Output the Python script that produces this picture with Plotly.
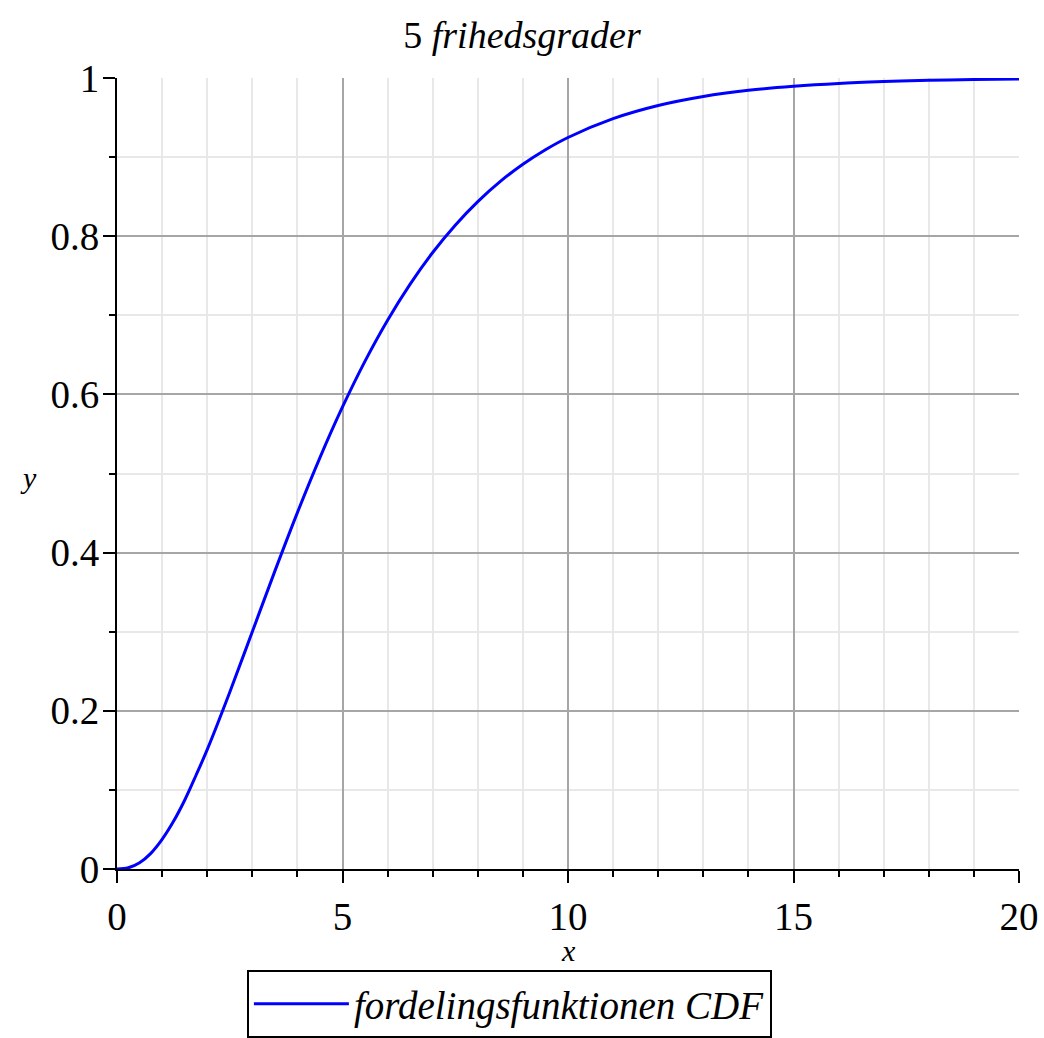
import plotly.graph_objects as go

x_vals = [0, 0.25, 0.5, 0.75, 1, 1.25, 1.5, 1.75, 2, 2.5, 3, 3.5, 4, 4.5, 5, 5.5, 6, 6.5, 7, 7.5,
          8, 8.5, 9, 9.5, 10, 11, 12, 13, 14, 15, 16, 17, 18, 19, 20]
cdf_vals = [0, 0.0015, 0.0079, 0.0198, 0.0374, 0.0599, 0.0869, 0.1182, 0.1509, 0.2235, 0.3000,
            0.3766, 0.4506, 0.5201, 0.5841, 0.6421, 0.6938, 0.7394, 0.7794, 0.8140, 0.8438,
            0.8693, 0.8909, 0.9093, 0.9248, 0.9486, 0.9652, 0.9766, 0.9844, 0.9896, 0.9932,
            0.9955, 0.9971, 0.9981, 0.9988]

FONT = "Liberation Serif, Times New Roman, serif"

fig = go.Figure()
fig.add_trace(go.Scatter(
    x=x_vals, y=cdf_vals, mode="lines",
    line=dict(color="#0000ff", width=3, shape="spline"),
    name="<i>fordelingsfunktionen CDF</i>",
))

fig.update_layout(
    width=1044, height=1038,
    margin=dict(l=117, r=25, t=78, b=169, autoexpand=False),
    paper_bgcolor="white", plot_bgcolor="white",
    font=dict(family=FONT, color="black", size=39),
    title=dict(text="5 <i>frihedsgrader</i>", x=0.5, xanchor="center",
               y=1 - 35 / 1038, yanchor="middle", font=dict(family=FONT, size=38)),
    showlegend=True,
    legend=dict(orientation="h", x=0.144, xanchor="left", y=-0.1277, yanchor="top",
                bordercolor="black", borderwidth=2, font=dict(family=FONT, size=39),
                itemwidth=95),
    annotations=[
        dict(text="<i>y</i>", xref="paper", yref="paper", x=-0.11, y=0.495,
             xanchor="left", yanchor="middle", showarrow=False,
             font=dict(family=FONT, size=30)),
        dict(text="<i>x</i>", xref="paper", yref="paper", x=0.5, y=-0.1035,
             xanchor="center", yanchor="middle", showarrow=False,
             font=dict(family=FONT, size=30)),
    ],
)

common = dict(
    showline=True, linecolor="black", linewidth=2,
    ticks="outside", ticklen=12, tickwidth=2, tickcolor="black",
    showgrid=True, gridcolor="#a6a6a6", gridwidth=2,
    zeroline=False, automargin=False,
    tickfont=dict(family=FONT, size=39),
)

fig.update_xaxes(
    range=[0, 20], dtick=5, tick0=0,
    minor=dict(dtick=1, ticks="outside", ticklen=6, tickwidth=2, tickcolor="black",
               showgrid=True, gridcolor="#e8e8e8", gridwidth=2),
    **common,
)
fig.update_yaxes(
    range=[0, 1], dtick=0.2, tick0=0,
    minor=dict(dtick=0.1, ticks="outside", ticklen=6, tickwidth=2, tickcolor="black",
               showgrid=True, gridcolor="#e8e8e8", gridwidth=2),
    ticklabelstandoff=-4,
    **common,
)

fig.write_html("out.html", config={"displayModeBar": False},
               post_script="document.body.style.margin='0';document.body.style.padding='0';")
